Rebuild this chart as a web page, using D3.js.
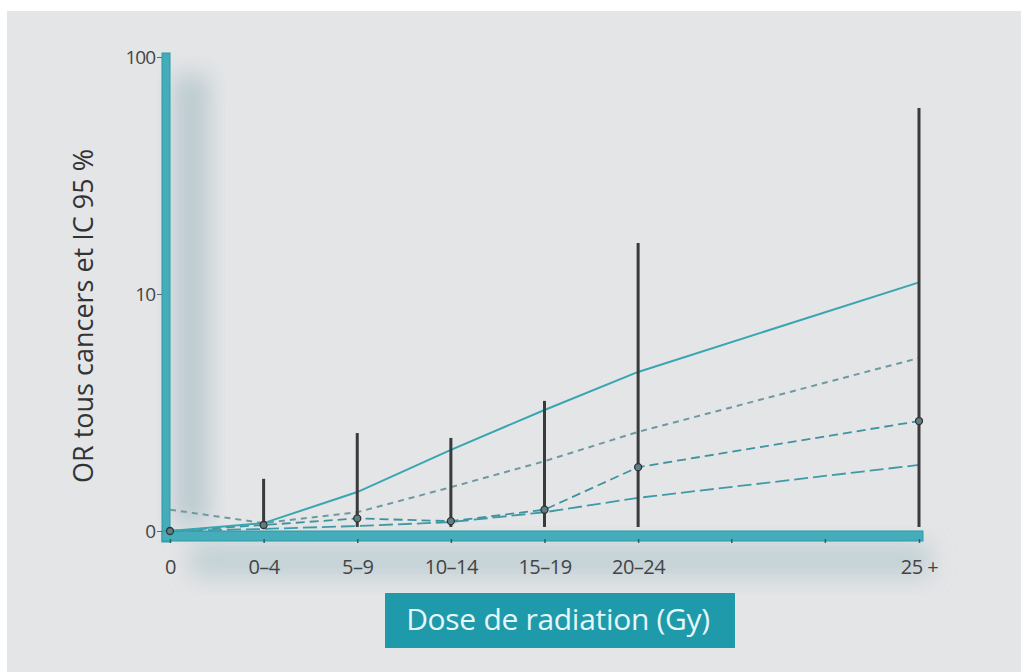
<!DOCTYPE html>
<html><head><meta charset="utf-8">
<script src="https://cdn.jsdelivr.net/npm/d3@7"></script>
<style>html,body{margin:0;padding:0;background:#fff;}svg{display:block;}</style>
</head><body>
<script>
const categories = ["0", "0–4", "5–9", "10–14", "15–19", "20–24", "25 +"];
const catIndex = [0, 1, 2, 3, 4, 5, 8];
const minorTicks = [6, 7];
const yTickValues = [1, 10, 100];
const yTickLabels = ["0", "10", "100"];

const orPoint = [1.0, 1.06, 1.13, 1.10, 1.23, 1.86, 2.91];
const ciHigh  = [1.0, 1.66, 2.59, 2.47, 3.54, 16.4, 61];
const ciLow   = [1.0, 1.04, 1.04, 1.04, 1.04, 1.04, 1.04];

const solidLine  = [1.0, 1.08, 1.46, 2.2, 3.24, 4.69, 11.2];
const shortDash  = [1.23, 1.08, 1.2, 1.53, 1.97, 2.62, 5.37];
const mediumDash = [1.0, 1.06, 1.13, 1.10, 1.23, 1.86, 2.91];
const longDash   = [1.0, 1.02, 1.05, 1.09, 1.2, 1.38, 1.9];

const W = 1021, H = 672;
const svg = d3.select("body").append("svg").attr("width", W).attr("height", H);
const defs = svg.append("defs");
const blur = defs.append("filter").attr("id", "blur").attr("x", "-50%").attr("y", "-50%").attr("width", "200%").attr("height", "200%");
blur.append("feGaussianBlur").attr("stdDeviation", 12);

svg.append("rect").attr("x", 7).attr("y", 11).attr("width", W - 7).attr("height", H - 11).attr("fill", "#e4e5e7");

const x = d3.scaleLinear().domain([0, 8]).range([170, 919]);
const y = d3.scaleLog().domain([1, 100]).range([531, 57]).clamp(true);

// shadows
svg.append("rect").attr("x", 174).attr("y", 75).attr("width", 34).attr("height", 450)
  .attr("fill", "#a7bec5").attr("opacity", 0.7).attr("filter", "url(#blur)");
svg.append("rect").attr("x", 190).attr("y", 543).attr("width", 740).attr("height", 34)
  .attr("fill", "#afc5cb").attr("opacity", 0.65).attr("filter", "url(#blur)");

// y axis band
svg.append("rect").attr("x", 162).attr("y", 53).attr("width", 8).attr("height", 489)
  .attr("fill", "#45adba").attr("stroke", "#2b9aa8").attr("stroke-width", 1);
// x axis band
svg.append("rect").attr("x", 162).attr("y", 531).attr("width", 761).attr("height", 10)
  .attr("fill", "#45adba").attr("stroke", "#2b9aa8").attr("stroke-width", 1);

// y axis ticks/labels
const yAxis = d3.axisLeft(y).tickValues(yTickValues).tickSize(5).tickPadding(2)
  .tickFormat((d, i) => yTickLabels[i]);
const gy = svg.append("g").attr("transform", "translate(162,0)").call(yAxis);
gy.select(".domain").remove();
gy.selectAll("line").attr("stroke", "#666");
gy.selectAll("text").attr("font-family", "Open Sans, sans-serif").attr("font-size", 19)
  .attr("letter-spacing", -1).attr("fill", "#444");

// x axis ticks/labels
const xAxis = d3.axisBottom(x).tickValues(catIndex).tickSize(4).tickPadding(17)
  .tickFormat((d, i) => categories[i]);
const gx = svg.append("g").attr("transform", "translate(0,539)").call(xAxis);
gx.select(".domain").remove();
gx.selectAll("line").attr("stroke", "#2d5f66").attr("stroke-width", 1.5);
gx.selectAll("text").attr("font-family", "Open Sans, sans-serif").attr("font-size", 20)
  .attr("letter-spacing", -0.5).attr("fill", "#444");
svg.append("g").selectAll("line").data(minorTicks).join("line")
  .attr("x1", d => x(d)).attr("x2", d => x(d)).attr("y1", 539).attr("y2", 543)
  .attr("stroke", "#2d5f66").attr("stroke-width", 1.5);

// lines
const line = d3.line().x((d, i) => x(catIndex[i])).y(d => y(d));
function drawLine(data, color, dash, width) {
  svg.append("path").datum(data).attr("d", line).attr("fill", "none")
    .attr("stroke", color).attr("stroke-width", width).attr("stroke-dasharray", dash);
}
drawLine(longDash, "#3f9aa6", "14,5", 1.8);
drawLine(mediumDash, "#3f939e", "9,5", 1.8);
drawLine(shortDash, "#6d9aa2", "6,5", 2);
drawLine(solidLine, "#3aa5b2", null, 2);

// error bars
const idx = d3.range(1, categories.length);
svg.append("g").selectAll("line").data(idx).join("line")
  .attr("x1", i => x(catIndex[i])).attr("x2", i => x(catIndex[i]))
  .attr("y1", i => y(ciLow[i])).attr("y2", i => y(ciHigh[i]))
  .attr("stroke", "#3a3a3a").attr("stroke-width", 3);

svg.append("g").selectAll("circle").data(d3.range(categories.length)).join("circle")
  .attr("cx", i => x(catIndex[i])).attr("cy", i => y(orPoint[i])).attr("r", 3.5)
  .attr("fill", "#5d7f85").attr("stroke", "#333").attr("stroke-width", 1.3);

// y title
svg.append("text").attr("transform", "translate(93,316) rotate(-90)")
  .attr("text-anchor", "middle").attr("font-family", "Open Sans, sans-serif")
  .attr("font-size", 27).attr("fill", "#333").text("OR tous cancers et IC 95 %");

// x title box
svg.append("rect").attr("x", 385).attr("y", 593).attr("width", 350).attr("height", 55).attr("fill", "#1f9aab");
svg.append("text").attr("x", 558).attr("y", 630).attr("text-anchor", "middle")
  .attr("font-family", "Open Sans, sans-serif").attr("font-size", 30).attr("fill", "#e6f7f9")
  .attr("letter-spacing", -0.3).text("Dose de radiation (Gy)");
</script>
</body></html>
